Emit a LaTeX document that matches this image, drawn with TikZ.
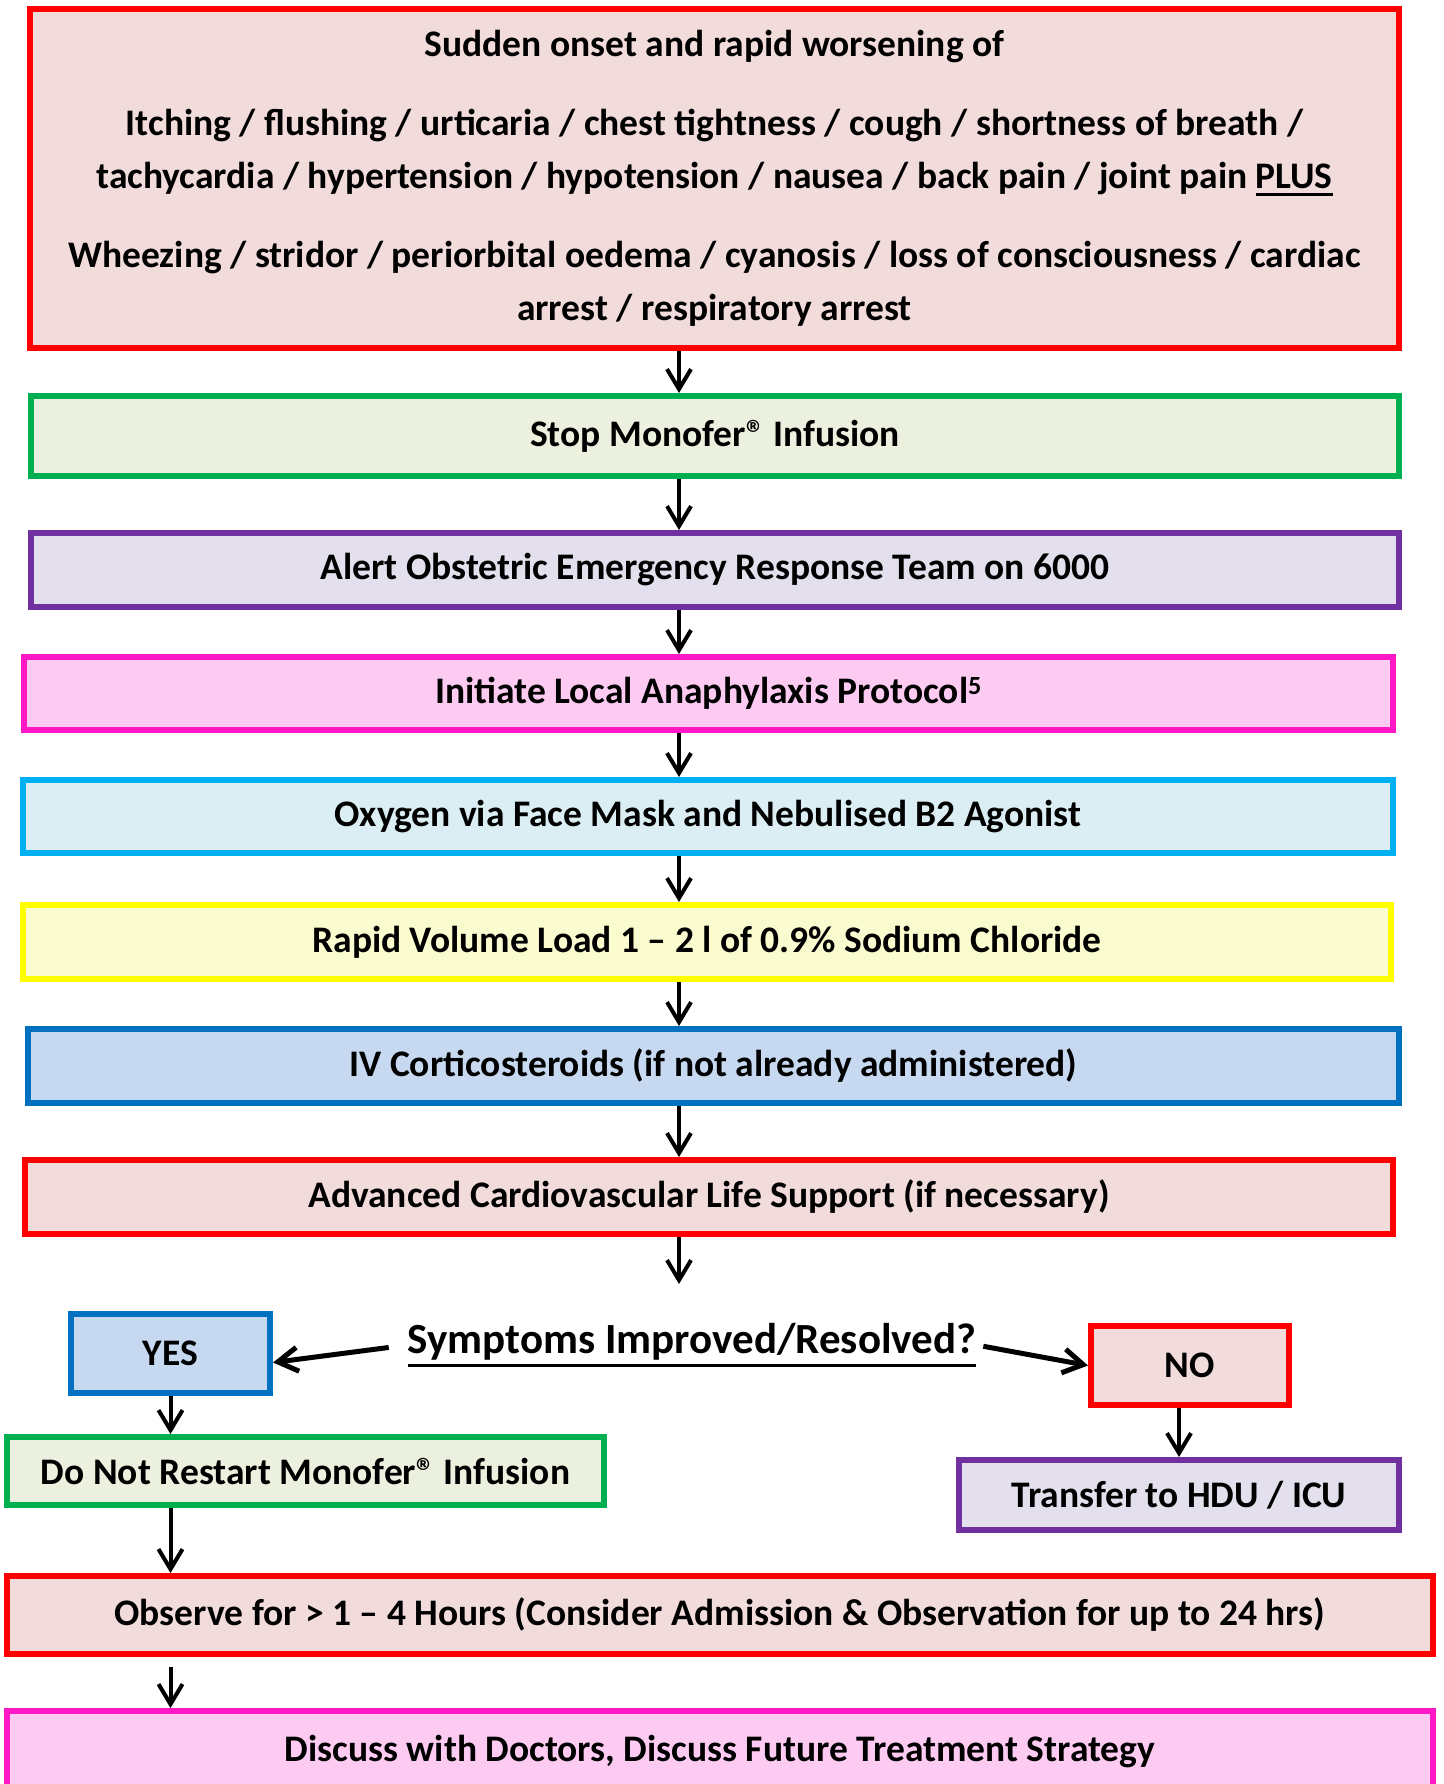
\documentclass[tikz,border=0pt]{standalone}
\usepackage{fontspec}
\setmainfont{Carlito}
\usetikzlibrary{arrows.meta}
\definecolor{AlarmRed}{HTML}{FF0000}
\definecolor{AlarmFill}{HTML}{F2DCDB}
\definecolor{StopGreen}{HTML}{00B050}
\definecolor{StopFill}{HTML}{EBF1DE}
\definecolor{TeamPurple}{HTML}{7030A0}
\definecolor{TeamFill}{HTML}{E4DFEC}
\definecolor{ProtoPink}{HTML}{FF19C6}
\definecolor{ProtoFill}{HTML}{FDCBF2}
\definecolor{OxyCyan}{HTML}{00B0F0}
\definecolor{OxyFill}{HTML}{DAEEF3}
\definecolor{FluidYellow}{HTML}{FFFF00}
\definecolor{FluidFill}{HTML}{FAFCCF}
\definecolor{SteroidBlue}{HTML}{0070C0}
\definecolor{SteroidFill}{HTML}{C6D9F1}
% thick underline below the text depth
\newcommand{\ulbold}[2][3pt]{\setbox0=\hbox{#2}\rlap{\rule[\dimexpr-\dp0-#1-4pt\relax]{\wd0}{#1}}\box0}
\tikzset{
	flowbox/.style 2 args={draw=#1, fill=#2, line width=6pt, inner sep=0pt, align=center,
		minimum height=74pt, font=\bfseries\fontsize{37.5}{53}\selectfont},
	flowarrow/.style={-{Straight Barb[length=20pt,width=24pt]}, line width=4pt},
	sidearrow/.style={-{Straight Barb[length=20pt,width=24pt]}, line width=5pt},
}
\begin{document}
\begin{tikzpicture}[x=1pt,y=-1pt]
	\useasboundingbox (0,0) rectangle (1443,1784);
	\coordinate (spine) at (679,0);

	% Main sequence
	\node[flowbox={AlarmRed}{AlarmFill}, minimum width=1369pt, minimum height=339pt] (onset) at (714.5,178.5) {%
		Sudden onset and rapid worsening of\\[26pt]
		Itching / flushing / urticaria / chest tightness / cough / shortness of breath /\\
		tachycardia / hypertension / hypotension / nausea / back pain / joint pain \ulbold{PLUS}\\[26pt]
		Wheezing / stridor / periorbital oedema / cyanosis / loss of consciousness / cardiac\\
		arrest / respiratory arrest};
	\node[flowbox={StopGreen}{StopFill}, minimum width=1368pt, minimum height=80pt] (stop) at (715,436) {Stop Monofer® Infusion};
	\node[flowbox={TeamPurple}{TeamFill}, minimum width=1368pt] (alert) at (715,570) {Alert Obstetric Emergency Response Team on 6000};
	\node[flowbox={ProtoPink}{ProtoFill}, minimum width=1369pt, minimum height=73pt] (initiate) at (708.5,693.5) {Initiate Local Anaphylaxis Protocol\textsuperscript{5}};
	\node[flowbox={OxyCyan}{OxyFill}, minimum width=1370pt, minimum height=73pt] (oxygen) at (708,816.5) {Oxygen via Face Mask and Nebulised B2 Agonist};
	\node[flowbox={FluidYellow}{FluidFill}, minimum width=1368pt] (fluid) at (707,942) {Rapid Volume Load 1 -- 2 l of 0.9\% Sodium Chloride};
	\node[flowbox={SteroidBlue}{SteroidFill}, minimum width=1371pt] (steroid) at (713.5,1066) {IV Corticosteroids (if not already administered)};
	\node[flowbox={AlarmRed}{AlarmFill}, minimum width=1368pt] (acls) at (709,1197) {Advanced Cardiovascular Life Support (if necessary)};

	% Decision
	\coordinate (askpoint) at (679,1284);
	\node[inner sep=0pt, font=\bfseries\fontsize{43}{48}\selectfont] (question) at (692,1345) {\ulbold{Symptoms Improved/Resolved?}};
	\node[flowbox={SteroidBlue}{SteroidFill}, minimum width=199pt, minimum height=79pt] (yes) at (170.5,1353.5) {YES};
	\node[flowbox={AlarmRed}{AlarmFill}, minimum width=198pt, minimum height=79pt] (no) at (1190,1365.5) {NO};
	\node[flowbox={StopGreen}{StopFill}, minimum width=597pt, minimum height=68pt] (norestart) at (305.5,1471) {Do Not Restart Monofer® Infusion};
	\node[flowbox={TeamPurple}{TeamFill}, minimum width=440pt, minimum height=70pt] (transfer) at (1179,1495) {Transfer to HDU / ICU};

	% Follow-up
	\node[flowbox={AlarmRed}{AlarmFill}, minimum width=1426pt, minimum height=78pt] (observe) at (720,1615) {Observe for > 1 -- 4 Hours (Consider Admission \& Observation for up to 24 hrs)};
	\node[flowbox={ProtoPink}{ProtoFill}, minimum width=1426pt, minimum height=80pt] (discuss) at (720,1751) {Discuss with Doctors, Discuss Future Treatment Strategy};

	% Connectors
	\draw[flowarrow] (onset.south -| spine) -- (stop.north -| spine);
	\draw[flowarrow] (stop.south -| spine) -- (alert.north -| spine);
	\draw[flowarrow] (alert.south -| spine) -- (initiate.north -| spine);
	\draw[flowarrow] (initiate.south -| spine) -- (oxygen.north -| spine);
	\draw[flowarrow] (oxygen.south -| spine) -- (fluid.north -| spine);
	\draw[flowarrow] (fluid.south -| spine) -- (steroid.north -| spine);
	\draw[flowarrow] (steroid.south -| spine) -- (acls.north -| spine);
	\draw[flowarrow] (acls.south -| spine) -- (askpoint);
	\draw[sidearrow, shorten <=19pt] (question.west) -- ([yshift=-9pt]yes.east);
	\draw[sidearrow, shorten <=7pt] (question.east) -- (no.west);
	\draw[flowarrow] (yes.south) -- (norestart.north -| yes.south);
	\draw[flowarrow] (no.south -| transfer.north) -- (transfer.north);
	\draw[flowarrow] (norestart.south -| yes.south) -- (observe.north -| yes.south);
	\draw[flowarrow, shorten <=10pt] (observe.south -| yes.south) -- (discuss.north -| yes.south);
\end{tikzpicture}
\end{document}
